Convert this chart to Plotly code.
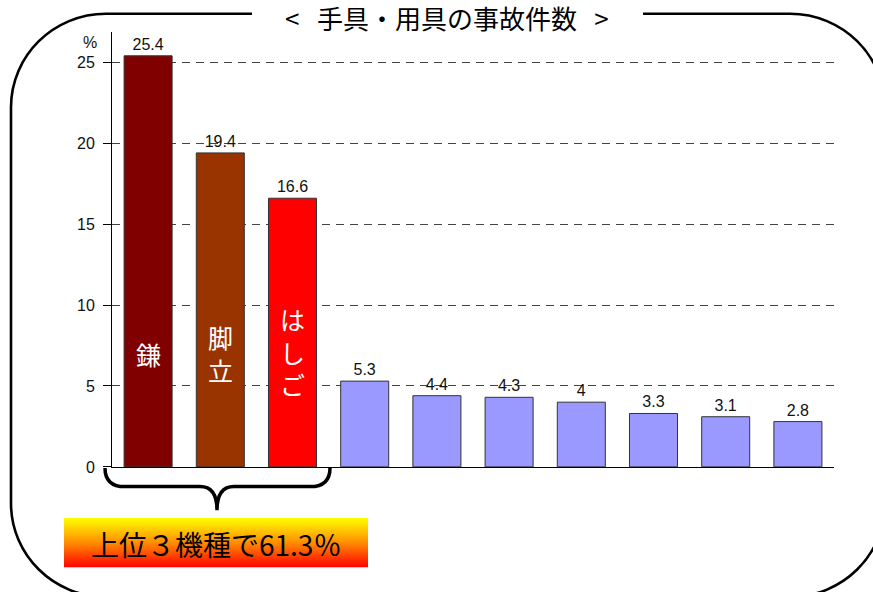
import plotly.graph_objects as go

# ---- data ----
values = [25.4, 19.4, 16.6, 5.3, 4.4, 4.3, 4, 3.3, 3.1, 2.8]
positions = list(range(len(values)))
bar_colors = ["#800000", "#993300", "#FF0000"] + ["#9999FF"] * 7
in_bar_labels = ["鎌", "脚立", "はしご"]
y_ticks = [0, 5, 10, 15, 20, 25]
title_text = "<   手具・用具の事故件数   >"
summary_text = "上位３機種で61.3％"
unit_text = "%"

W, H = 873, 601
X0, X1 = 112, 834          # plot area left/right (px)
Y0, Y1 = 474, 32           # plot area bottom/top (px)
YMAX = 26.9

def py(v):  # pixel y -> overlay coordinate
    return H - v

fig = go.Figure()

fig.add_trace(go.Bar(
    x=positions, y=values,
    marker=dict(color=bar_colors, line=dict(color="#333333", width=1)),
    width=0.665,
    texttemplate="%{y}", textposition="outside",
    textfont=dict(family="Liberation Sans, Arial, sans-serif", size=16, color="#111111"),
    cliponaxis=False, showlegend=False, hoverinfo="skip",
))

# gradient summary box on overlay axes (pixel coordinates)
bx0, bx1, by0, by1 = 64, 368, 526, 576
fig.add_trace(go.Scatter(
    x=[bx0, bx1, bx1, bx0, bx0],
    y=[py(by0), py(by0), py(by1), py(by1), py(by0)],
    mode="lines", fill="toself", line=dict(width=0),
    fillgradient=dict(type="vertical",
                      colorscale=[[0, "#FF0000"], [0.5, "#FF8C00"], [1, "#FFFF00"]]),
    xaxis="x2", yaxis="y2", showlegend=False, hoverinfo="skip",
))

fig.update_layout(
    width=W, height=H,
    margin=dict(l=0, r=0, t=0, b=0),
    paper_bgcolor="white", plot_bgcolor="rgba(0,0,0,0)",
    bargap=0.335,
    xaxis=dict(domain=[X0 / W, X1 / W], range=[-0.5, 9.5],
               showline=True, linecolor="black", linewidth=1,
               showticklabels=False, ticks="", showgrid=False, zeroline=False,
               fixedrange=True),
    yaxis=dict(domain=[1 - Y0 / H, 1 - Y1 / H], range=[0, YMAX],
               tickvals=y_ticks, ticks="outside", ticklen=8, tickcolor="black",
               ticklabelstandoff=5,
               showline=True, linecolor="black", linewidth=1,
               showgrid=True, gridcolor="#444444", gridwidth=1, griddash="8px,6px",
               zeroline=False,
               tickfont=dict(family="Liberation Sans, Arial, sans-serif", size=16, color="#111111"),
               fixedrange=True),
    xaxis2=dict(domain=[0, 1], range=[0, W], visible=False, anchor="y2", fixedrange=True),
    yaxis2=dict(domain=[0, 1], range=[0, H], visible=False, anchor="x2", fixedrange=True),
)

# rounded border (open at top for title)
k = 0.5523
L, T, R, B, r = 11, 14, 885, 606, 95
def p(x, y):
    return f"{x:.2f},{py(y):.2f}"
border = (
    f"M {p(643, T)} L {p(R - r, T)} "
    f"C {p(R - r + k * r, T)} {p(R, T + r - k * r)} {p(R, T + r)} "
    f"L {p(R, B - r)} "
    f"C {p(R, B - r + k * r)} {p(R - r + k * r, B)} {p(R - r, B)} "
    f"L {p(L + r, B)} "
    f"C {p(L + r - k * r, B)} {p(L, B - r + k * r)} {p(L, B - r)} "
    f"L {p(L, T + r)} "
    f"C {p(L, T + r - k * r)} {p(L + r - k * r, T)} {p(L + r, T)} "
    f"L {p(252, T)}"
)
fig.add_shape(type="path", path=border, xref="x2", yref="y2",
              line=dict(color="black", width=2.6))

# brace under top three bars
brace = (
    f"M {p(105, 475)} Q {p(105, 494)} {p(125, 494)} L {p(200, 494)} "
    f"Q {p(217, 494)} {p(217, 518)} Q {p(217, 494)} {p(234, 494)} "
    f"L {p(310, 494)} Q {p(330, 494)} {p(330, 475)}"
)
fig.add_shape(type="path", path=brace, xref="x2", yref="y2",
              line=dict(color="black", width=3.5))

jp = "Noto Sans CJK JP, sans-serif"
# title
fig.add_annotation(x=447, y=py(17.5), xref="x2", yref="y2", text=title_text,
                   showarrow=False, borderpad=0,
                   font=dict(family=jp, size=26, color="black"))
# unit
fig.add_annotation(x=90, y=py(43), xref="x2", yref="y2", text=unit_text,
                   showarrow=False,
                   font=dict(family="Liberation Sans, Arial, sans-serif", size=16, color="#111111"))
# summary text
fig.add_annotation(x=(bx0 + bx1) / 2, y=py((by0 + by1) / 2 + 1), xref="x2", yref="y2",
                   text=summary_text, showarrow=False,
                   font=dict(family=jp, size=28, color="black"))

# in-bar vertical labels (one character per line)
label_centers = [7.0, 7.0, 7.1]
for i, lab in enumerate(in_bar_labels):
    fig.add_annotation(x=positions[i], y=label_centers[i], xref="x", yref="y",
                       text="<br>".join(lab), showarrow=False,
                       font=dict(family=jp, size=25, color="white"))

post = (
    "document.body.style.margin='0';"
    "document.body.style.overflow='hidden';"
)
fig.write_html("out.html", config={"displayModeBar": False}, post_script=post)
